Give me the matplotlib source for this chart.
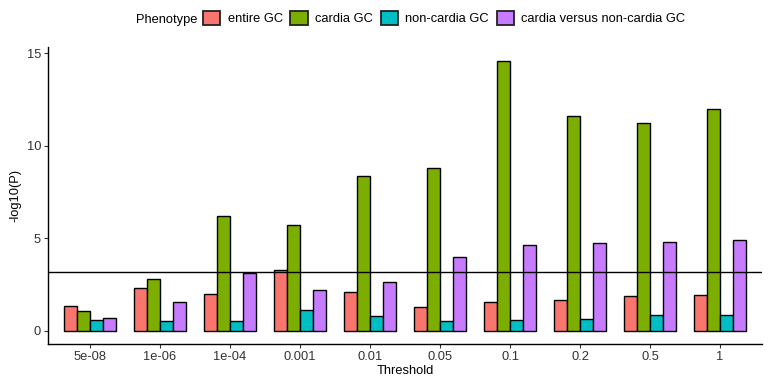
import numpy as np
import matplotlib.pyplot as plt
from matplotlib.patches import Patch

plt.rcParams['font.family'] = ['Liberation Sans', 'DejaVu Sans']

# thresholds on the x axis
thresholds = ['5e-08', '1e-06', '1e-04', '0.001', '0.01', '0.05', '0.1', '0.2', '0.5', '1']
phenotypes = ['entire GC', 'cardia GC', 'non-cardia GC', 'cardia versus non-cardia GC']
colors = ['#F8766D', '#7CAE00', '#00BFC4', '#C77CFF']

# -log10(P) per phenotype
entire_gc = [1.31, 2.30, 1.98, 3.29, 2.10, 1.28, 1.56, 1.66, 1.85, 1.91]
cardia_gc = [1.08, 2.79, 6.17, 5.72, 8.36, 8.81, 14.60, 11.60, 11.24, 11.97]
noncardia_gc = [0.59, 0.49, 0.50, 1.12, 0.77, 0.52, 0.59, 0.63, 0.83, 0.83]
cardia_vs_noncardia = [0.66, 1.56, 3.11, 2.17, 2.61, 3.97, 4.65, 4.75, 4.80, 4.89]
cutoff = 3.15

series = [entire_gc, cardia_gc, noncardia_gc, cardia_vs_noncardia]

fig = plt.figure(figsize=(7.68, 3.76), dpi=100)
ax = fig.add_axes([48/768, 32/376, 714/768, 297/376])

x = np.arange(len(thresholds))
total_w = 0.73
bw = total_w / 4
for i, (vals, col) in enumerate(zip(series, colors)):
    ax.bar(x - total_w/2 + bw*(i + 0.5), vals, width=bw, color=col,
           edgecolor='black', linewidth=1.0, zorder=2)

ax.axhline(cutoff, color='black', linewidth=1.0, zorder=3)

ax.set_xlim(-0.6, len(thresholds) - 0.4)
ax.set_ylim(-0.73, 15.33)
ax.set_xticks(x)
ax.set_xticklabels(thresholds)
ax.set_yticks([0, 5, 10, 15])
ax.tick_params(axis='both', labelsize=9.3, length=3, width=0.8, color='#333333',
               labelcolor='#333333', pad=2)
for s in ['top', 'right']:
    ax.spines[s].set_visible(False)
for s in ['left', 'bottom']:
    ax.spines[s].set_linewidth(1.0)
ax.set_xlabel('Threshold', fontsize=9.3, labelpad=1.5)
ax.set_ylabel('-log10(P)', fontsize=9.3, labelpad=4)

# legend across the top, title on the left
handles = [Patch(facecolor=c, edgecolor='#222222', linewidth=1.3) for c in colors]
fig.text(136/768, 1 - 18/376, 'Phenotype', fontsize=9.3, va='center_baseline', ha='left')
fig.legend(handles, phenotypes, loc='center left', bbox_to_anchor=(203/768, 1 - 18/376),
           ncol=4, frameon=False, fontsize=9.3, handlelength=1.35, handleheight=1.3,
           handletextpad=0.55, columnspacing=0.6, borderaxespad=0, borderpad=0)

plt.savefig('out.png', dpi=100)
